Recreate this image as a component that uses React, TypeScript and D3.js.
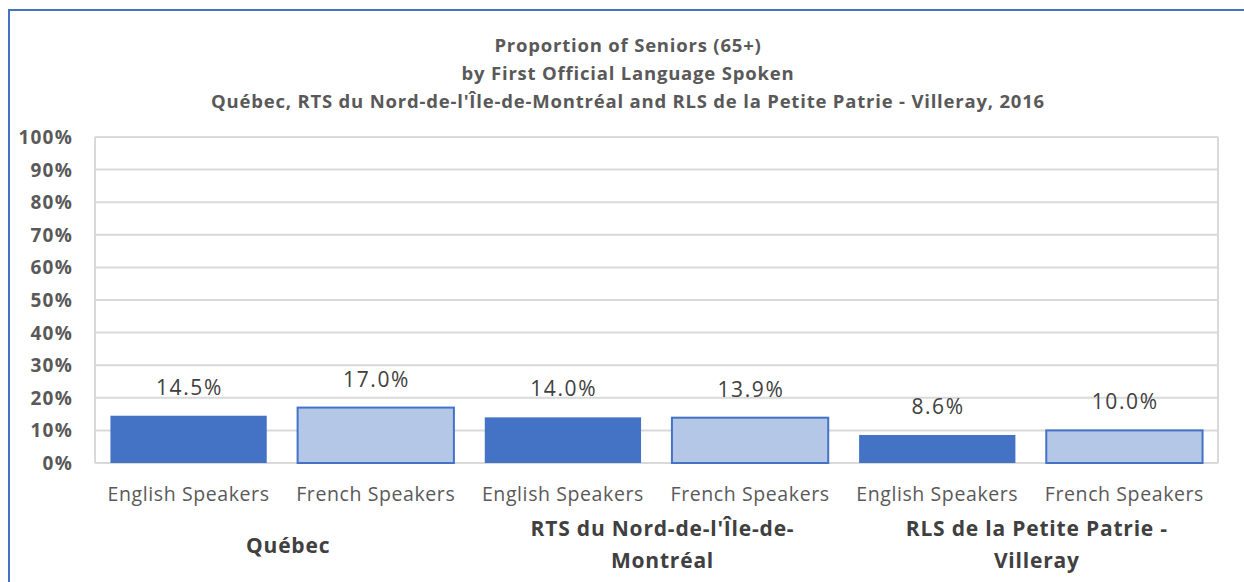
import React from "react";
import * as d3 from "d3";

const titleLines = [
  "Proportion of Seniors (65+)",
  "by First Official Language Spoken",
  "Québec, RTS du Nord-de-l'Île-de-Montréal and RLS de la Petite Patrie - Villeray, 2016",
];
const groups = [
  ["Québec"],
  ["RTS du Nord-de-l'Île-de-", "Montréal"],
  ["RLS de la Petite Patrie -", "Villeray"],
];
const subCategories = ["English Speakers", "French Speakers"];
const values = [14.5, 17.0, 14.0, 13.9, 8.6, 10.0];
const yTicks = [0, 10, 20, 30, 40, 50, 60, 70, 80, 90, 100];

const W = 1244;
const H = 582;
const plot = { left: 95, right: 1218, top: 137, bottom: 463 };
const FONT = "'Open Sans', Lato, sans-serif";

export default function App() {
  const keys = values.map((_, i) => String(i));
  const x = d3.scaleBand<string>().domain(keys).range([plot.left, plot.right]).paddingInner(0.165).paddingOuter(0.0825);
  const y = d3.scaleLinear().domain([0, 100]).range([plot.bottom, plot.top]);
  const groupWidth = (plot.right - plot.left) / groups.length;

  return (
    <svg width={W} height={H} style={{ position: "absolute", left: 0, top: 0, background: "#fff" }} fontFamily={FONT}>
      <rect x={9} y={10} width={1250} height={600} fill="#fff" stroke="#4472C4" strokeWidth={2} />
      {titleLines.map((t, i) => (
        <text key={i} x={628} y={52 + i * 28} textAnchor="middle" fontSize={18.5} fontWeight="bold" fill="#595959" letterSpacing={0.8}>
          {t}
        </text>
      ))}
      {yTicks.map((t) => (
        <g key={t}>
          <line x1={plot.left} x2={plot.right} y1={y(t)} y2={y(t)} stroke="#d9d9d9" strokeWidth={2} />
          <text x={73} y={y(t) + 7} textAnchor="end" fontSize={19} fontWeight="bold" fill="#595959" letterSpacing={1.2}>
            {t}%
          </text>
        </g>
      ))}
      <line x1={plot.left} x2={plot.left} y1={plot.top} y2={plot.bottom} stroke="#d9d9d9" strokeWidth={2} />
      <line x1={plot.right} x2={plot.right} y1={plot.top} y2={plot.bottom} stroke="#d9d9d9" strokeWidth={2} />
      {values.map((v, i) => {
        const isEng = i % 2 === 0;
        const bx = x(String(i))!;
        const bw = x.bandwidth();
        return (
          <g key={i}>
            <rect
              x={bx}
              y={y(v)}
              width={bw}
              height={plot.bottom - y(v)}
              fill={isEng ? "#4472C4" : "#B4C7E7"}
              stroke={isEng ? "none" : "#4472C4"}
              strokeWidth={2}
            />
            <text x={bx + bw / 2 + 0.8} y={y(v) - 21} textAnchor="middle" fontSize={21} fill="#404040" letterSpacing={1.6}>
              {v.toFixed(1)}%
            </text>
            <text x={bx + bw / 2} y={501} textAnchor="middle" fontSize={19.5} fill="#595959" letterSpacing={0.6}>
              {subCategories[i % 2]}
            </text>
          </g>
        );
      })}
      {groups.map((lines, g) => {
        const cx = plot.left + groupWidth * (g + 0.5) + 6;
        const startY = lines.length === 1 ? 553 : 536;
        return lines.map((l, j) => (
          <text key={g + "-" + j} x={cx} y={startY + j * 32} textAnchor="middle" fontSize={21} fontWeight="bold" fill="#404040" letterSpacing={0.8}>
            {l}
          </text>
        ));
      })}
    </svg>
  );
}
